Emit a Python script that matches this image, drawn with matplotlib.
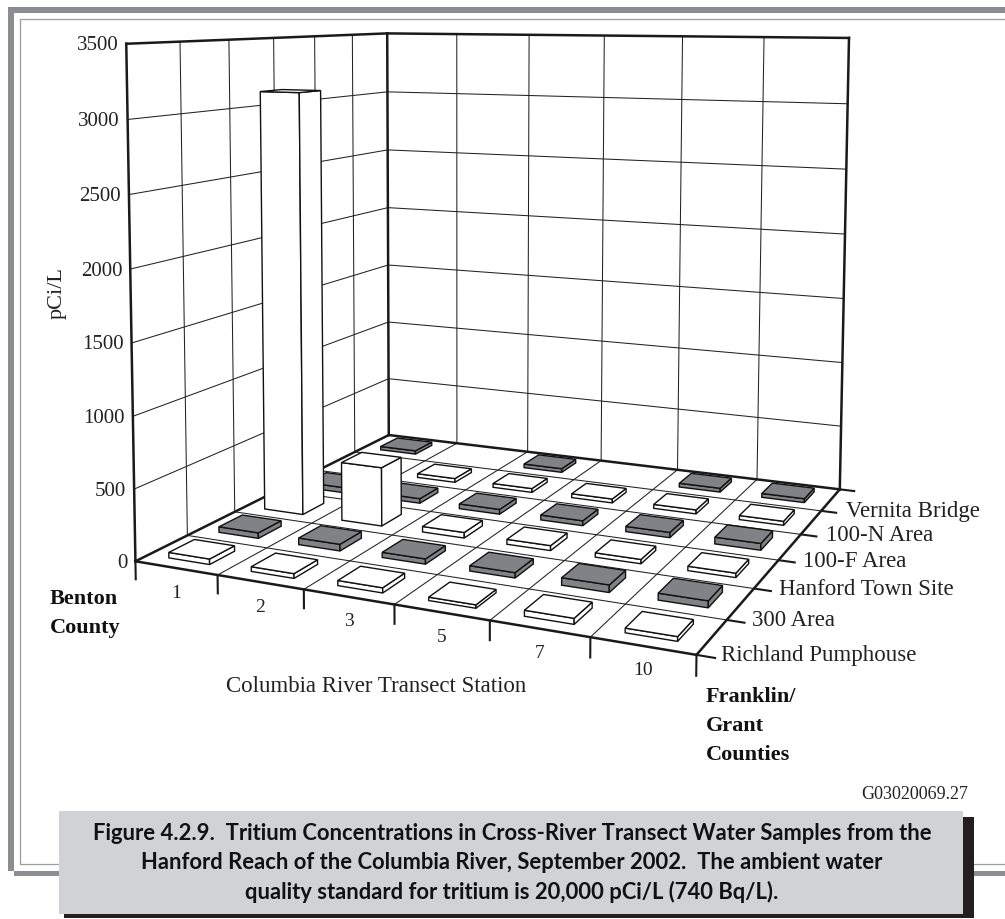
import numpy as np
import matplotlib
matplotlib.use('Agg')
import matplotlib.pyplot as plt

#----------------------------Data----------------------------------------------#
stations = ['1', '2', '3', '5', '7', '10']
sites = ['Richland Pumphouse', '300 Area', 'Hanford Town Site',
         '100-F Area', '100-N Area', 'Vernita Bridge']
z_ticks = [0, 500, 1000, 1500, 2000, 2500, 3000, 3500]

# pCi/L per station, nan = no sample
richland = [38, 32, 34, 22, 38, 29]
area_300 = [40, 47, 36, 36, 50, 45]
hanford = [3120, 430, 40, 35, 30, 30]
area_100f = [40, 35, 36, 36, 38, 48]
area_100n = [30, 30, 30, 30, 30, 30]
vernita = [28, np.nan, 30, np.nan, 30, 30]
series = [richland, area_300, hanford, area_100f, area_100n, vernita]

#----------------------------Colours-------------------------------------------#
DARK = '#808285'
FRAME = '#8c8d90'
THIN = '#9b9c9f'
CAPTION = '#d1d2d4'
series_colors = ['white', DARK, 'white', DARK, 'white', DARK]

#----------------------------Perspective---------------------------------------#
# camera fitted to where the box corners sit on the page (x, y, z -> px, py)
anchors = [
    (0, 0, 0, 135, 562), (6, 0, 0, 696, 655), (6, 6, 0, 839, 490),
    (0, 6, 0, 389, 436), (0, 6, 3500, 387, 34), (6, 6, 3500, 849, 39),
    (0, 0, 3500, 126, 45), (3, 0, 0, 394, 606), (6, 3, 0, 780, 562),
    (0, 0, 2000, 131, 270), (0, 6, 2000, 388, 209),
]


def fit_camera(pts):
    rows = []
    rhs = []
    for x, y, z, px, py in pts:
        z = z / 3500
        rows.append([x, y, z, 1, 0, 0, 0, 0, -px * x, -px * y, -px * z])
        rows.append([0, 0, 0, 0, x, y, z, 1, -py * x, -py * y, -py * z])
        rhs += [px, py]
    sol = np.linalg.lstsq(np.array(rows, float), np.array(rhs, float), rcond=None)[0]
    return np.append(sol, 1).reshape(3, 4)


CAM = fit_camera(anchors)


def project(x, y, z):
    p = CAM @ np.array([x, y, z / 3500, 1.0])
    return p[0] / p[2], p[1] / p[2]


def line3d(ax, a, b, lw=0.75, color='#222222', zorder=2):
    pa, pb = project(*a), project(*b)
    ax.plot([pa[0], pb[0]], [pa[1], pb[1]], color=color, lw=lw, zorder=zorder,
            solid_capstyle='projecting')


def face(ax, corners, color, zorder):
    pts = [project(*c) for c in corners]
    ax.fill([p[0] for p in pts], [p[1] for p in pts], facecolor=color,
            edgecolor='#111111', lw=1.0, zorder=zorder, joinstyle='miter')


def bar3d(ax, i, j, value, color, zorder):
    x0, x1 = i + 0.25, i + 0.75
    y0, y1 = j + 0.25, j + 0.75
    face(ax, [(x0, y0, 0), (x1, y0, 0), (x1, y0, value), (x0, y0, value)], color, zorder)
    face(ax, [(x1, y0, 0), (x1, y1, 0), (x1, y1, value), (x1, y0, value)], color, zorder)
    face(ax, [(x0, y0, value), (x1, y0, value), (x1, y1, value), (x0, y1, value)], color, zorder)


#----------------------------Figure--------------------------------------------#
plt.rcParams['font.family'] = ['Liberation Serif', 'DejaVu Serif']
fig = plt.figure(figsize=(10.05, 9.2), dpi=100)
ax = fig.add_axes([0, 0, 1, 1])
ax.set_xlim(0, 1005)
ax.set_ylim(920, 0)
ax.axis('off')

# page frame
ax.fill([8, 1005, 1005, 14, 14, 1005, 1005, 8], [8, 8, 14, 14, 877, 877, 872, 872],
        color=FRAME, lw=0, zorder=1)
ax.plot([1004, 20, 20, 1004], [20, 20, 865, 865], color=THIN, lw=0.9, zorder=1)

# grid
nx, ny = len(stations), len(sites)
ztop = z_ticks[-1]
for i in range(1, nx):
    line3d(ax, (i, 0, 0), (i, ny, 0))
    line3d(ax, (i, ny, 0), (i, ny, ztop))
for j in range(1, ny):
    line3d(ax, (0, j, 0), (nx, j, 0))
    line3d(ax, (0, j, 0), (0, j, ztop))
for z in z_ticks[1:-1]:
    line3d(ax, (0, 0, z), (0, ny, z))
    line3d(ax, (0, ny, z), (nx, ny, z))

# box outline
box_edges = [
    ((0, 0, 0), (0, 0, ztop)), ((0, ny, 0), (0, ny, ztop)), ((nx, ny, 0), (nx, ny, ztop)),
    ((0, 0, ztop), (0, ny, ztop)), ((0, ny, ztop), (nx, ny, ztop)),
    ((0, 0, 0), (0, ny, 0)), ((0, ny, 0), (nx, ny, 0)),
    ((0, 0, 0), (nx, 0, 0)), ((nx, 0, 0), (nx, ny, 0)),
]
for a, b in box_edges:
    line3d(ax, a, b, lw=1.8, color='#1a1a1a', zorder=3)

# ticks
for i in range(nx + 1):
    line3d(ax, (i, 0, 0), (i, 0, -125), lw=1.5, color='#1a1a1a', zorder=3)
for j in range(ny + 1):
    line3d(ax, (nx, j, 0), (nx + 0.17, j, 0), lw=1.5, color='#1a1a1a', zorder=3)

# bars, back to front
zo = 4
for j in range(ny - 1, -1, -1):
    for i in range(nx):
        val = series[j][i]
        if np.isnan(val):
            continue
        bar3d(ax, i, j, val, series_colors[j], zo)
        zo += 1

# tick labels
for z in z_ticks:
    px, py = project(0, 0, z)
    ax.text(px - 8, py + 1, str(z), ha='right', va='center', fontsize=15, color='#222222')
for i, lab in enumerate(stations):
    px, py = project(i + 0.5, 0, 0)
    ax.text(px, py + 24, lab, ha='center', va='center', fontsize=14, color='#222222')
for j, lab in enumerate(sites):
    px, py = project(nx, j, 0)
    ax.text(px + 25, py, lab, ha='left', va='center', fontsize=16.5, color='#222222')

ax.text(57, 293, 'pCi/L', rotation=90, ha='center', va='center', fontsize=16, color='#222222')
ax.text(376, 687, 'Columbia River Transect Station', ha='center', va='center',
        fontsize=16.5, color='#222222')
ax.text(50, 614, 'Benton\nCounty', ha='left', va='center', fontsize=16, weight='bold',
        linespacing=1.6, color='#111111')
ax.text(706, 726, 'Franklin/\nGrant\nCounties', ha='left', va='center', fontsize=16,
        weight='bold', linespacing=1.6, color='#111111')
ax.text(968, 795, 'G03020069.27', ha='right', va='center', fontsize=13, color='#222222')

# caption box with hard shadow
ax.fill([64, 974, 974, 64], [818, 818, 919, 919], color='#231f20', lw=0, zorder=50)
ax.fill([59, 963, 963, 59], [812, 812, 915, 915], color=CAPTION, lw=0, zorder=51)
caption = ('Figure 4.2.9.  Tritium Concentrations in Cross-River Transect Water Samples from the\n'
           'Hanford Reach of the Columbia River, September 2002.  The ambient water\n'
           'quality standard for tritium is 20,000 pCi/L (740 Bq/L).')
ax.text(512, 863, caption, ha='center', va='center', fontsize=15.8, weight='bold',
        family='Lato', linespacing=1.43, color='#111111', zorder=52)

fig.savefig('out.png', dpi=100)
